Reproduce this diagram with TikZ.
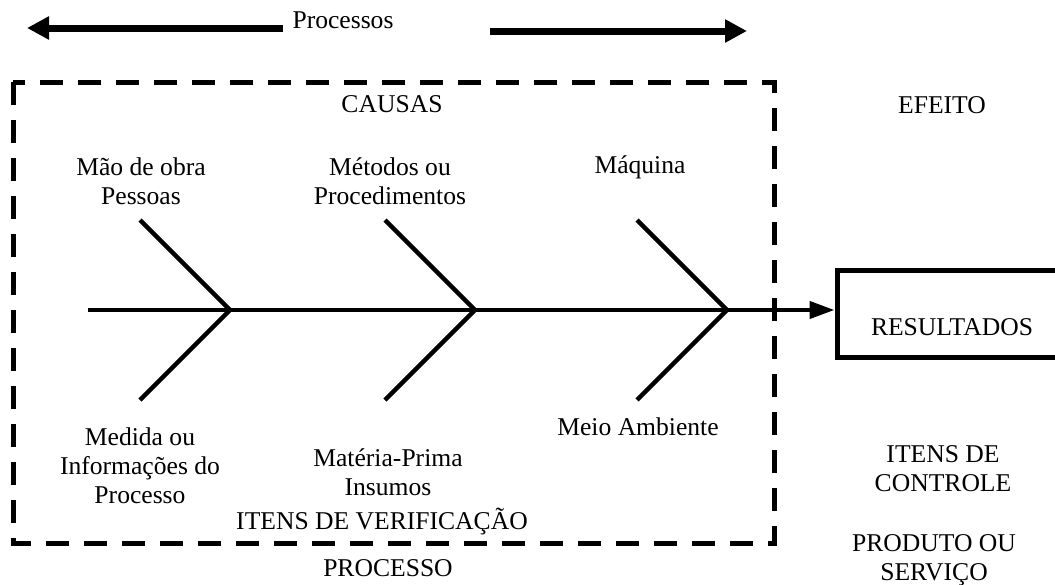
\documentclass[tikz,border=0pt]{standalone}
\usepackage{fontspec}
\setmainfont{Liberation Serif}
\usetikzlibrary{arrows.meta}

\tikzset{
	lbl/.style={font=\fontsize{12.8}{14.5}\selectfont, align=center, inner sep=0pt},
	bone/.style={line width=2.2pt},
	fatarrow/.style={line width=3.5pt, -{Triangle[length=11pt, width=11pt]}},
	spinearrow/.style={line width=2.2pt, -{Triangle[length=12.5pt, width=8.5pt]}},
	frame/.style={line width=2.5pt, dash pattern=on 11.5pt off 7.5pt},
	resbox/.style={draw, line width=2.5pt, minimum width=145pt, minimum height=43.5pt, inner sep=0pt}
}

\begin{document}
\begin{tikzpicture}[x=0.5pt, y=-0.5pt]
			\useasboundingbox (0,0) rectangle (1055,584);
			\clip (0,0) rectangle (1055,584);
			
			% -- Process arrows on top --
			\node[lbl] (proc) at (343,20) {Processos};
			\coordinate (ltail) at (283,28);
			\coordinate (ltip) at (27,28);
			\coordinate (rtail) at (490,31);
			\coordinate (rtip) at (747,31);
			\draw[fatarrow] (ltail) -- (ltip);
			\draw[fatarrow] (rtail) -- (rtip);
			
			% -- Process frame --
			\draw[frame] (13,82) rectangle (774,543);
			\node[lbl] (causas) at (392,104) {CAUSAS};
			\node[lbl] (verif) at (382,522) {ITENS DE VERIFICAÇÃO};
			\node[lbl] (processo) at (388,568) {PROCESSO};
			
			% -- Effect side --
			\node[lbl] (efeito) at (942,105) {EFEITO};
			\node[resbox] (res) at (982,313.5) {};
			\node[lbl] (resultados) at (952,327) {RESULTADOS};
			\node[lbl] (controle) at (943,469) {ITENS DE\\CONTROLE};
			\node[lbl] (produto) at (934,560) {PRODUTO OU\\SERVIÇO};
			
			% -- Spine and bones --
			\coordinate (tail) at (88,310);
			\foreach \x [count=\i] in {230, 475, 727} {
				\coordinate (j\i) at (\x,310);
				\coordinate (up\i) at (\x-90,220);
				\coordinate (lo\i) at (\x-90,400);
				\draw[bone] (up\i) -- (j\i) -- (lo\i);
			}
			\draw[spinearrow] (tail) -- (tail -| res.west);
			
			% -- Causes --
			\node[lbl] (maodeobra) at (141,181) {Mão de obra\\Pessoas};
			\node[lbl] (metodos) at (390,181) {Métodos ou\\Procedimentos};
			\node[lbl] (maquina) at (640,167) {Máquina};
			\node[lbl] (medida) at (140,466) {Medida ou\\Informações do\\Processo};
			\node[lbl] (materia) at (388,472) {Matéria-Prima\\Insumos};
			\node[lbl] (meio) at (638,427) {Meio Ambiente};
		\end{tikzpicture}
\end{document}
